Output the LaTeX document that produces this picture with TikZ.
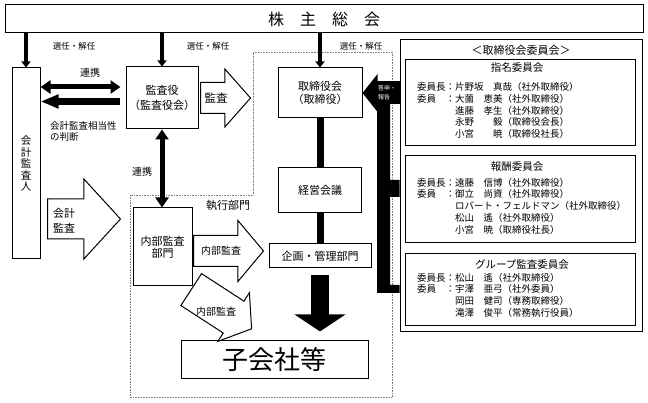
\documentclass[tikz,border=0pt]{standalone}
\usepackage{fontspec}
\setmainfont{Noto Sans CJK JP}
\usetikzlibrary{positioning}
\usetikzlibrary{arrows.meta,shapes.arrows}

\tikzset{
  box/.style={draw,line width=1pt,fill=white,inner sep=0pt},
  hollow/.style={single arrow,draw,line width=1pt,fill=white,inner xsep=0pt,anchor=tail},
  choose/.style={line width=3.5pt,-{Triangle[width=9pt,length=6pt]}},
  link/.style={line width=5pt,{Triangle[width=13pt,length=10pt]}-{Triangle[width=13pt,length=10pt]}},
  bar/.style={line width=7pt},
  small/.style={font=\fontsize{8.5}{10}\selectfont},
  mid/.style={font=\fontsize{10}{12}\selectfont},
  big/.style={font=\fontsize{11}{13}\selectfont},
  lst/.style={inner sep=0pt,anchor=north west,font=\fontsize{9.5}{11.8}\selectfont},
}

\begin{document}
\begin{tikzpicture}[x=1pt,y=-1pt]
      \useasboundingbox (0,0) rectangle (648,403);
      \draw[gray,densely dotted,line width=0.6pt] (253,52) -- (392,52) -- (392,397) -- (130,397) -- (130,195) -- (253,195) -- cycle;

      \node[box,minimum width=638pt,minimum height=28pt,font=\fontsize{16}{16}\selectfont] (S) at (324,19) {株　主　総　会};
      \node[box,minimum width=28pt,minimum height=191pt,align=center,font=\fontsize{10.5}{11.5}\selectfont] (K) at (26,163.5) {会\\計\\監\\査\\人};
      \node[box,minimum width=72pt,minimum height=62pt,align=center,font=\fontsize{11}{15}\selectfont] (A) at (162,98) {監査役\\（監査役会）};
      \node[box,minimum width=84pt,minimum height=50pt,align=center,font=\fontsize{11}{13.5}\selectfont] (B) at (320,93) {取締役会\\（取締役）};
      \node[box,big,minimum width=83pt,minimum height=45pt,below=49pt of B] (M) {経営会議};
      \node[box,big,minimum width=102pt,minimum height=24pt,below=30pt of M] (P) {企画・管理部門};
      \node[box,minimum width=59pt,minimum height=78pt,align=center,font=\fontsize{11}{12}\selectfont] (I) at (162.5,247) {内部監査\\部門};
      \node[box,minimum width=187pt,minimum height=37pt,font=\fontsize{26}{26}\selectfont] (G) at (274.5,359.5) {子会社等};

      \node[box,minimum width=242pt,minimum height=292pt] (C) at (521,186) {};
      \node[big] (Ct) at (521,50) {＜取締役会委員会＞};
      \node[box,minimum width=230pt,minimum height=86pt] (N) at (520,103) {};
      \node[box,minimum width=230pt,minimum height=87pt,below=9pt of N] (R) {};
      \node[box,minimum width=230pt,minimum height=72pt,below=10pt of R] (Q) {};

      \node[font=\fontsize{10.5}{12}\selectfont] (Nh) at (517,68) {指名委員会};
      \node[lst] (Nl) at (417,82) {\begin{tabular}{@{}l@{}l@{}l@{}}
        委員長&：&片野坂　真哉（社外取締役）\\
        委員&：&大薗　恵美（社外取締役）\\
        &&進藤　孝生（社外取締役）\\
        &&永野　　毅（取締役会長）\\
        &&小宮　　暁（取締役社長）
      \end{tabular}};
      \node[font=\fontsize{10.5}{12}\selectfont] (Rh) at (517,167) {報酬委員会};
      \node[lst] (Rl) at (417,177.6) {\begin{tabular}{@{}l@{}l@{}l@{}}
        委員長&：&遠藤　信博（社外取締役）\\
        委員&：&御立　尚資（社外取締役）\\
        &&ロバート・フェルドマン（社外取締役）\\
        &&松山　遙（社外取締役）\\
        &&小宮　暁（取締役社長）
      \end{tabular}};
      \node[font=\fontsize{10.5}{12}\selectfont] (Qh) at (522,265) {グループ監査委員会};
      \node[lst] (Ql) at (417,272.6) {\begin{tabular}{@{}l@{}l@{}l@{}}
        委員長&：&松山　遙（社外取締役）\\
        委員&：&宇澤　亜弓（社外委員）\\
        &&岡田　健司（専務取締役）\\
        &&滝澤　俊平（常務執行役員）
      \end{tabular}};

      \node[hollow,inner ysep=15pt,minimum height=50pt,single arrow head extend=13.5pt,single arrow tip angle=97] (a1) at (200,98) {};
      \node[hollow,inner ysep=19.5pt,minimum height=73pt,single arrow head extend=20pt,single arrow tip angle=95] (a2) at (47,219) {};
      \node[hollow,inner ysep=15pt,minimum height=70pt,single arrow head extend=15pt,single arrow tip angle=100] (a3) at (193,251) {};
      \node[hollow,inner ysep=18.5pt,minimum height=72pt,single arrow head extend=10pt,single arrow tip angle=107,rotate=-33] (a4) at (190.8,289.3) {};

      \node[font=\fontsize{11.5}{13}\selectfont] (t1) at (216,98) {監査};
      \node[big,align=left,inner sep=0pt,font=\fontsize{11}{15}\selectfont] (t2) at (64,220.5) {会計\\監査};
      \node[mid] (t3) at (221,251) {内部監査};
      \node[mid] (t4) at (216,312) {内部監査};

      \node[small] (s1) at (74,46) {選任・解任};
      \node[small] (s2) at (208,46) {選任・解任};
      \node[small] (s3) at (361,46) {選任・解任};
      \node[mid] (l1) at (90,73) {連携};
      \node[mid] (l2) at (142,172) {連携};
      \node[anchor=west,align=left,inner sep=0pt,font=\fontsize{9.5}{11}\selectfont] (j) at (50,131.5) {会計監査相当性\\の判断};
      \node[big] (E) at (228,205) {執行部門};

      \path[choose] (S.south -| K.north) edge (K.north)
            (S.south -| A.north) edge (A.north)
            (S.south -| B.north) edge (B.north);
      \path[link] ([yshift=11pt]A.west) edge[shorten <=5pt] ([yshift=11pt]A.west -| K.east)
            (A.south) edge (A.south |- I.north);
      \path[line width=7pt,-{Triangle[width=13pt,length=18pt]}] ([yshift=-3.5pt]A.west) edge[shorten <=6pt] ([yshift=-3.5pt]A.west -| K.east);
      \path[bar] (B) edge (M)
            (M) edge (P);
      \path[line width=18pt,-{Triangle[width=50pt,length=17pt]}] (P.south) edge[shorten <=7pt,shorten >=9pt] (P.south |- G.north);

      \path[line width=23pt,-{Triangle[width=37pt,length=15pt]}] (C.west |- B.east) edge (B.east);
      \fill (377,81.5) rectangle (390,293)
            (390,180) rectangle (C.west |- 0,197)
            (390,285) rectangle (C.west |- 0,293);
      \node[anchor=west,align=left,inner sep=0pt,text=white,font=\fontsize{6}{9}\selectfont] (r) at (378,92.5) {答申・\\報告};
\end{tikzpicture}
\end{document}
